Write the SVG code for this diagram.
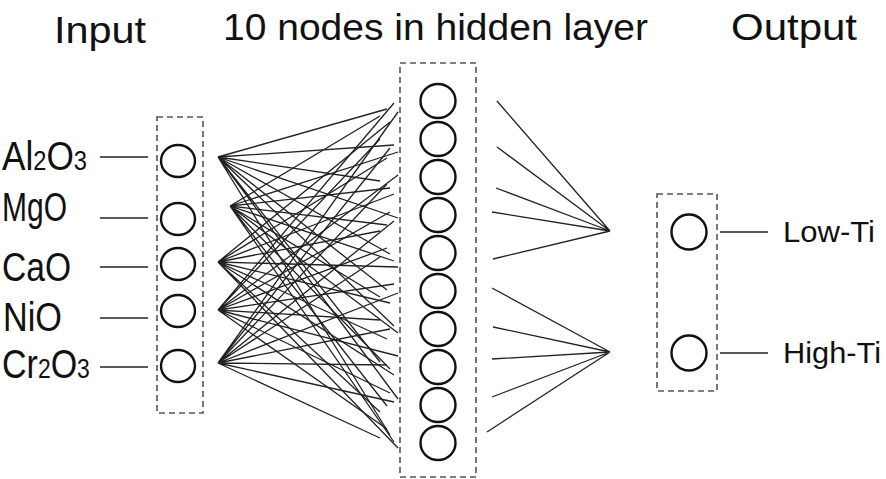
<svg xmlns="http://www.w3.org/2000/svg" width="886" height="479" viewBox="0 0 886 479">
  <style>
    .box { fill: none; stroke: #555; stroke-width: 1.6; stroke-dasharray: 6 4; }
    .node { fill: #fff; stroke: #111; stroke-width: 2.4; }
    .wire { fill: none; stroke: #222; stroke-width: 1.3; }
    .lead { stroke: #222; stroke-width: 1.4; }
    .title { font-family: "Liberation Sans", Arial, sans-serif; font-size: 37px; fill: #111; }
    .lab { font-family: "Liberation Sans", Arial, sans-serif; font-size: 40px; fill: #111; }
    .lab .sub { font-size: 27px; }
    .out { font-family: "Liberation Sans", Arial, sans-serif; font-size: 30px; fill: #111; }
  </style>
  <rect width="886" height="479" fill="#fff"/>

  <!-- layer titles -->
  <g id="titles">
    <text class="title" x="54" y="43" textLength="92" lengthAdjust="spacingAndGlyphs">Input</text>
    <text class="title" x="223" y="40" textLength="425" lengthAdjust="spacingAndGlyphs">10 nodes in hidden layer</text>
    <text class="title" x="731" y="40" textLength="126" lengthAdjust="spacingAndGlyphs">Output</text>
  </g>

  <!-- layer frames -->
  <rect class="box" x="157" y="117" width="46" height="296"/>
  <rect class="box" x="400" y="63" width="76" height="414"/>
  <rect class="box" x="657" y="194" width="60" height="197"/>

  <!-- connectors -->
  <g id="connectors">
    <g id="input-leads">
      <line class="lead" x1="100" y1="157" x2="148" y2="157"/>
      <line class="lead" x1="100" y1="218" x2="148" y2="218"/>
      <line class="lead" x1="100" y1="267" x2="148" y2="267"/>
      <line class="lead" x1="100" y1="318" x2="148" y2="318"/>
      <line class="lead" x1="100" y1="367" x2="148" y2="367"/>
    </g>
    <g id="input-to-hidden">
      <path class="wire" d="M218 157L387 109M218 157L394 145M218 157L380 181M218 157L398 218M218 157L390 254M218 157L387 290M218 157L394 326M218 157L380 362M218 157L398 399M218 157L390 435"/>
      <path class="wire" d="M230 206L380 116M230 206L398 152M230 206L390 188M230 206L387 225M230 206L394 261M230 206L380 297M230 206L398 333M230 206L390 369M230 206L387 406M230 206L394 442"/>
      <path class="wire" d="M218 262L390 122M218 262L387 158M218 262L394 194M218 262L380 231M218 262L398 267M218 262L390 303M218 262L387 339M218 262L394 375M218 262L380 412M218 262L398 448"/>
      <path class="wire" d="M218 310L394 103M218 310L380 139M218 310L398 175M218 310L390 212M218 310L387 248M218 310L394 284M218 310L380 320M218 310L398 356M218 310L390 393M218 310L387 429"/>
      <path class="wire" d="M218 363L398 112M218 363L390 148M218 363L387 184M218 363L394 221M218 363L380 257M218 363L398 293M218 363L390 329M218 363L387 365M218 363L394 402M218 363L380 438"/>
    </g>
    <g id="hidden-to-output">
      <path class="wire" d="M497 101L610 231M497 147L610 231M496 188L610 231M492 212L610 231M493 259L610 231"/>
      <path class="wire" d="M492 288L610 352M493 327L610 352M492 359L610 352M492 397L610 352M487 432L610 352"/>
    </g>
    <g id="output-leads">
      <line class="lead" x1="720" y1="232" x2="768" y2="232"/>
      <line class="lead" x1="720" y1="353" x2="768" y2="353"/>
    </g>
  </g>

  <!-- input layer -->
  <g id="in-al2o3">
    <text class="lab" transform="translate(2 170) scale(0.88 1)">Al<tspan class="sub">2</tspan>O<tspan class="sub">3</tspan></text>
    <ellipse class="node" cx="178" cy="161" rx="17" ry="16"/>
  </g>
  <g id="in-mgo">
    <text class="lab" x="2" y="221" textLength="65" lengthAdjust="spacingAndGlyphs">MgO</text>
    <ellipse class="node" cx="178" cy="219" rx="17" ry="16"/>
  </g>
  <g id="in-cao">
    <text class="lab" x="2" y="281" textLength="69" lengthAdjust="spacingAndGlyphs">CaO</text>
    <ellipse class="node" cx="178" cy="264" rx="17" ry="16"/>
  </g>
  <g id="in-nio">
    <text class="lab" x="3" y="331" textLength="59" lengthAdjust="spacingAndGlyphs">NiO</text>
    <ellipse class="node" cx="178" cy="311" rx="17" ry="16"/>
  </g>
  <g id="in-cr2o3">
    <text class="lab" transform="translate(2 378) scale(0.85 1)">Cr<tspan class="sub">2</tspan>O<tspan class="sub">3</tspan></text>
    <ellipse class="node" cx="178" cy="366" rx="17" ry="16"/>
  </g>

  <!-- hidden layer -->
  <g id="h1"><ellipse class="node" cx="438" cy="101" rx="17.5" ry="17"/></g>
  <g id="h2"><ellipse class="node" cx="438" cy="139" rx="17.5" ry="17"/></g>
  <g id="h3"><ellipse class="node" cx="438" cy="177" rx="17.5" ry="17"/></g>
  <g id="h4"><ellipse class="node" cx="438" cy="215" rx="17.5" ry="17"/></g>
  <g id="h5"><ellipse class="node" cx="438" cy="253" rx="17.5" ry="17"/></g>
  <g id="h6"><ellipse class="node" cx="438" cy="291" rx="17.5" ry="17"/></g>
  <g id="h7"><ellipse class="node" cx="438" cy="329" rx="17.5" ry="17"/></g>
  <g id="h8"><ellipse class="node" cx="438" cy="367" rx="17.5" ry="17"/></g>
  <g id="h9"><ellipse class="node" cx="438" cy="405" rx="17.5" ry="17"/></g>
  <g id="h10"><ellipse class="node" cx="438" cy="443" rx="17.5" ry="17"/></g>

  <!-- output layer -->
  <g id="out-low">
    <ellipse class="node" cx="689" cy="232" rx="17.5" ry="17.5"/>
    <text class="out" x="783" y="242" textLength="92" lengthAdjust="spacingAndGlyphs">Low-Ti</text>
  </g>
  <g id="out-high">
    <ellipse class="node" cx="689" cy="353" rx="17.5" ry="17.5"/>
    <text class="out" x="783" y="363" textLength="98" lengthAdjust="spacingAndGlyphs">High-Ti</text>
  </g>
</svg>
